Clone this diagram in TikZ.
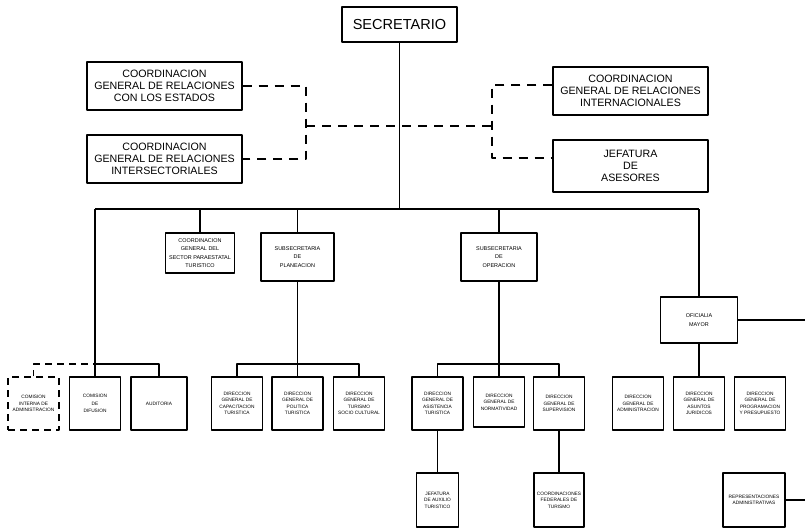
\documentclass[tikz,border=0pt]{standalone}
\usepackage{fontspec}
\setmainfont{Liberation Sans}
\begin{document}
\begin{tikzpicture}[x=0.75pt,y=-0.75pt,line join=round,
	caja/.style={draw,line width=1pt,align=center,inner sep=1pt},
	cajagrande/.style={caja,font=\fontsize{10.9}{13}\selectfont},
	cajamedia/.style={caja,font=\fontsize{8}{8.8}\selectfont},
	cajachica/.style={caja,font=\fontsize{4.1}{6.2}\selectfont},
	cajamini/.style={caja,font=\fontsize{3.6}{4.8}\selectfont,minimum width=38.25pt,minimum height=39.75pt},
	linea/.style={line width=1pt},
	lineapunteada/.style={line width=1pt,dash pattern=on 7pt off 5pt}]
	\useasboundingbox (0,0) rectangle (805,528);
	% Secretario y coordinaciones
	\node[cajagrande,minimum width=86.25pt,minimum height=26.25pt] (sec) at (399.5,24.5) {SECRETARIO};
	\node[cajamedia,minimum width=116.25pt,minimum height=36pt] (est) at (164.5,86) {COORDINACION\\GENERAL DE RELACIONES\\CON LOS ESTADOS};
	\node[cajamedia,minimum width=116.25pt,minimum height=36pt] (ints) at (164.5,159) {COORDINACION\\GENERAL DE RELACIONES\\INTERSECTORIALES};
	\node[cajamedia,minimum width=116.25pt,minimum height=36pt] (intl) at (630.5,91) {COORDINACION\\GENERAL DE RELACIONES\\INTERNACIONALES};
	\node[cajamedia,minimum width=116.25pt,minimum height=39pt] (ase) at (630.5,166) {JEFATURA\\DE\\ASESORES};
	\coordinate (dl) at (306,126);
	\coordinate (dr) at (492,126);
	\draw[lineapunteada] (est.east) -| (dl) |- (ints.east);
	\draw[lineapunteada] (dl) -- (dr);
	\draw[lineapunteada] ([yshift=4.5pt]intl.west) -| (dr) |- ([yshift=6pt]ase.west);
	% Segundo nivel
	\coordinate (busL) at (95,209);
	\coordinate (busR) at (699,209);
	\draw[linea] (sec.south) -- (sec.south |- busL);
	\draw[linea] (busL) -- (busR);
	\node[cajachica,minimum width=51.75pt,minimum height=30pt] (par) at (200,253) {COORDINACION\\GENERAL DEL\\SECTOR PARAESTATAL\\TURISTICO};
	\node[cajachica,minimum width=54.75pt,minimum height=36pt] (pla) at (297.5,257) {SUBSECRETARIA\\DE\\PLANEACION};
	\node[cajachica,minimum width=57pt,minimum height=36pt] (ope) at (499,257) {SUBSECRETARIA\\DE\\OPERACION};
	\node[cajachica,minimum width=57.75pt,minimum height=34.5pt] (ofm) at (699,320) {OFICIALIA\\MAYOR};
	\draw[linea] (par.north) -- (par.north |- busL);
	\draw[linea] (pla.north) -- (pla.north |- busL);
	\draw[linea] (ope.north) -- (ope.north |- busL);
	\draw[linea] (busR) -- (ofm.north);
	% Tercer nivel
	\node[cajamini,dash pattern=on 5pt off 4pt] (cia) at (33.5,403.5) {COMISION\\INTERNA DE\\ADMINISTRACION};
	\node[cajamini,font=\fontsize{3.6}{5.5}\selectfont] (cdd) at (95,403.5) {COMISION\\DE\\DIFUSION};
	\node[cajamini,minimum width=42pt] (aud) at (159,403.5) {AUDITORIA};
	\node[cajamini] (dgc) at (237,403.5) {DIRECCION\\GENERAL DE\\CAPACITACION\\TURISTICA};
	\node[cajamini] (dgp) at (297.5,403.5) {DIRECCION\\GENERAL DE\\POLITICA\\TURISTICA};
	\node[cajamini] (dgt) at (359,403.5) {DIRECCION\\GENERAL DE\\TURISMO\\SOCIO CULTURAL};
	\node[cajamini] (dga) at (437.5,403.5) {DIRECCION\\GENERAL DE\\ASISTENCIA\\TURISTICA};
	\node[cajamini,minimum height=37.5pt] (dgn) at (499,402) {DIRECCION\\GENERAL DE\\NORMATIVIDAD};
	\node[cajamini] (dgs) at (559,403.5) {DIRECCION\\GENERAL DE\\SUPERVISION};
	\node[cajamini] (dgad) at (638,403.5) {DIRECCION\\GENERAL DE\\ADMINISTRACION};
	\node[cajamini] (dgj) at (699,403.5) {DIRECCION\\GENERAL DE\\ASUNTOS\\JURIDICOS};
	\node[cajamini] (dgpp) at (760,403.5) {DIRECCION\\GENERAL DE\\PROGRAMACION\\Y PRESUPUESTO};
	\coordinate (lb) at (33.5,364);
	\coordinate (pb) at (297.5,364);
	\coordinate (ob) at (499,364);
	\draw[linea] (busL) -- (cdd.north);
	\draw[lineapunteada,dash pattern=on 5pt off 4pt] (cia.north) |- (lb -| cdd.north);
	\draw[linea] (lb -| cdd.north) -| (aud.north);
	\draw[linea] (pla.south) -- (pb) -- (dgp.north);
	\draw[linea] (dgc.north) |- (pb) -| (dgt.north);
	\draw[linea] (ope.south) -- (ob) -- (dgn.north);
	\draw[linea] (dga.north) |- (ob) -| (dgs.north);
	\draw[linea] (ofm.south) -- (dgj.north);
	% Cuarto nivel
	\node[cajamini,minimum width=31.5pt,minimum height=40.5pt] (jat) at (437.5,500) {JEFATURA\\DE AUXILIO\\TURISTICO};
	\node[cajamini,minimum width=37.5pt,minimum height=40.5pt] (cft) at (559,500) {COORDINACIONES\\FEDERALES DE\\TURISMO};
	\node[cajamini,minimum width=46.5pt,minimum height=40.5pt] (rep) at (754,500) {REPRESENTACIONES\\ADMINISTRATIVAS};
	\draw[linea] (dga.south) -- (jat.north);
	\draw[linea] (dgs.south) -- (cft.north);
	\coordinate (borde) at (805,0);
	\draw[linea] (ofm.east) -- (ofm.east -| borde);
	\draw[linea] (rep.east) -- (rep.east -| borde);
\end{tikzpicture}
\end{document}
